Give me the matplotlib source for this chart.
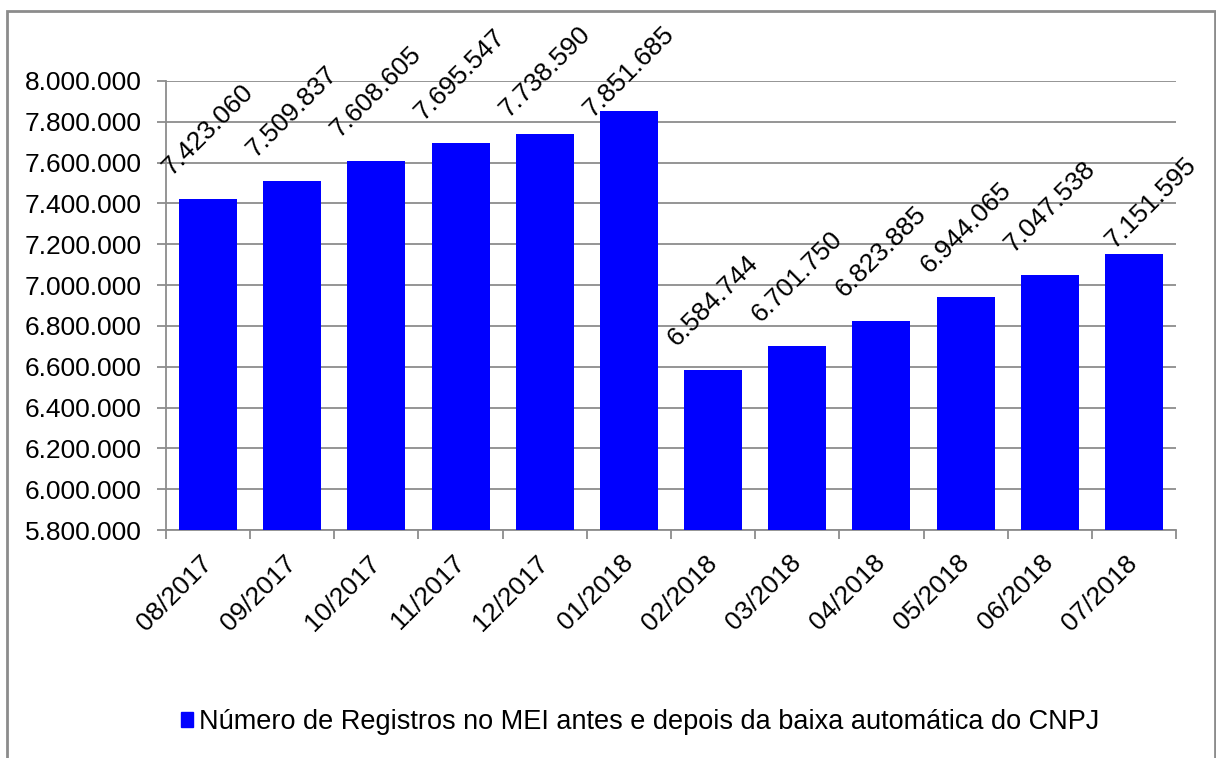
import matplotlib
matplotlib.use("Agg")
import matplotlib.pyplot as plt
from matplotlib.patches import Rectangle, Patch
from matplotlib.ticker import FuncFormatter, MultipleLocator, FixedLocator

plt.rcParams["font.family"] = ["Liberation Sans", "DejaVu Sans"]

months = ["08/2017", "09/2017", "10/2017", "11/2017", "12/2017", "01/2018",
          "02/2018", "03/2018", "04/2018", "05/2018", "06/2018", "07/2018"]
registros = [7423060, 7509837, 7608605, 7695547, 7738590, 7851685,
             6584744, 6701750, 6823885, 6944065, 7047538, 7151595]
serie_nome = "Número de Registros no MEI antes e depois da baixa automática do CNPJ"

BLUE = "#0000FF"
GRID = "#8c8c8c"
FS = 19

W, H = 1216, 758
fig = plt.figure(figsize=(W / 100, H / 100), dpi=100)
ax = fig.add_axes([166 / W, (H - 530) / H, (1176 - 166) / W, (530 - 81) / H])


def br(v, _pos=None):
    return f"{int(round(v)):,}".replace(",", ".")


x = list(range(len(months)))
bars = ax.bar(x, registros, width=0.69, color=BLUE, zorder=3)

ax.set_ylim(5_800_000, 8_000_000)
ax.set_xlim(-0.5, len(months) - 0.5)
ax.yaxis.set_major_locator(MultipleLocator(200_000))
ax.yaxis.set_major_formatter(FuncFormatter(br))
ax.grid(axis="y", color=GRID, lw=1.3, zorder=0)

for side in ("top", "right"):
    ax.spines[side].set_visible(False)
for side in ("left", "bottom"):
    ax.spines[side].set_color(GRID)
    ax.spines[side].set_linewidth(1.3)

ax.tick_params(axis="y", length=6.5, width=1.3, color=GRID, pad=11, labelsize=FS)
# category ticks sit between the bars, labels sit under the bars
ax.set_xticks(x)
ax.set_xticklabels(months, rotation=45, ha="right", va="center",
                   rotation_mode="anchor", fontsize=FS)
ax.tick_params(axis="x", which="major", length=0, pad=21)
ax.xaxis.set_minor_locator(FixedLocator([i - 0.5 for i in range(len(months) + 1)]))
ax.tick_params(axis="x", which="minor", length=6.5, width=1.3, color=GRID)

# value labels: 69 px above the bar top, kept below the top edge of the chart
fig.canvas.draw()
for i, v in enumerate(registros):
    bx, by = ax.transData.transform((i, v))
    cx, cy = bx, by + 69
    top_limit = H - 72
    if cy > top_limit:
        cy = top_limit
    if i == len(registros) - 1:
        cx, cy = bx + 17, by + 52
    ax.annotate(br(v), xy=(cx, cy), xycoords="figure pixels",
                ha="center", va="center", rotation=45, fontsize=FS,
                annotation_clip=False)

fig.legend(handles=[Patch(color=BLUE)], labels=[serie_nome],
           loc="center", bbox_to_anchor=(640 / W, 1 - 722 / H),
           frameon=False, fontsize=19.5, handlelength=0.45, handleheight=0.45,
           handletextpad=0.2)

fig.patches.append(Rectangle((7 / W, -0.02), (1215 - 7) / W, 1.02 - 11 / H,
                             transform=fig.transFigure, fill=False,
                             edgecolor="#8c8c8c", lw=2, clip_on=False))

fig.savefig("out.png", dpi=100)
